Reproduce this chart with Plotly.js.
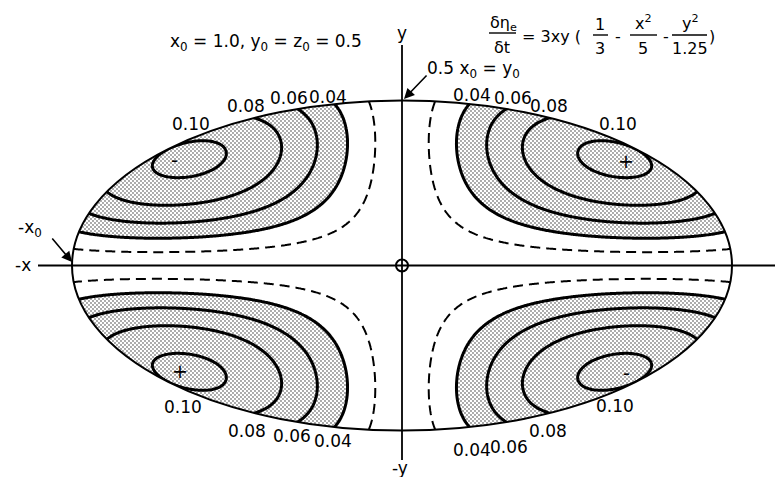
<!DOCTYPE html>
<html>
<head>
<meta charset="utf-8">
<script src="https://cdn.plot.ly/plotly-3.0.1.min.js"></script>
<style>
  html, body { margin: 0; padding: 0; background: #fff; }
  #plot { width: 778px; height: 477px; }
</style>
</head>
<body>
<div id="plot"></div>
<script>
// Semi-axes of the ellipsoid section: x0 = 1.0, y0 = 0.5
const semiAxes = [1.0, 0.5];
// d(eta_e)/dt = 3xy (1/3 - x^2/5 - y^2/1.25)
const leadCoeff = 3;
const termDenoms = [3, 5, 1.25];
// Contour levels of |d(eta_e)/dt|
const solidLevels = [0.04, 0.06, 0.08, 0.10];
const dashedLevels = [0.02];
// Sign of the rate in each quadrant: upper-left, upper-right, lower-left, lower-right
const quadrantSigns = ['-', '+', '+', '-'];

function rate(x, y) {
  return leadCoeff * x * y * (1 / termDenoms[0] - x * x / termDenoms[1] - y * y / termDenoms[2]);
}

// Sample the field over the bounding box of the ellipse
const NX = 401, NY = 201;
const gx = [], gy = [], gz = [];
for (let i = 0; i < NX; i++) gx.push(-semiAxes[0] + 2 * semiAxes[0] * i / (NX - 1));
for (let j = 0; j < NY; j++) gy.push(-semiAxes[1] + 2 * semiAxes[1] * j / (NY - 1));
for (let j = 0; j < NY; j++) {
  const row = [];
  for (let i = 0; i < NX; i++) row.push(Math.abs(rate(gx[i], gy[j])));
  gz.push(row);
}

// Page geometry: 330 px per unit, origin at (402, 265.5)
const S = 330, CX = 402, CY = 265.5, W = 778, H = 477;
const ux = p => (p - CX) / S;
const uy = p => (CY - p) / S;
const xRange = [ux(0), ux(W)];
const yRange = [uy(H), uy(0)];

const FONT = 'DejaVu Sans';
const step = solidLevels[1] - solidLevels[0];
const SHADE = 'rgb(190,190,190)';

const traces = [
  { // shaded bands (|rate| >= 0.04) with solid contour lines
    type: 'contour', x: gx, y: gy, z: gz,
    autocontour: false, showscale: false, hoverinfo: 'skip',
    zauto: false, zmin: solidLevels[0] - step / 2, zmax: solidLevels[solidLevels.length - 1] + step / 2,
    colorscale: [[0, '#ffffff'], [0.12, '#ffffff'], [0.12, SHADE], [1, SHADE]],
    contours: { coloring: 'fill', start: solidLevels[0], end: solidLevels[solidLevels.length - 1], size: step },
    line: { color: '#000', width: 3 }
  },
  { // dashed contour
    type: 'contour', x: gx, y: gy, z: gz,
    autocontour: false, showscale: false, hoverinfo: 'skip',
    contours: { coloring: 'none', start: dashedLevels[0], end: dashedLevels[0] + step / 2, size: step },
    line: { color: '#000', width: 2, dash: '10px,6px' }
  }
];

// White mask outside the ellipse (even-odd: rectangle minus ellipse)
let mask = `M ${xRange[0] - 0.1} ${yRange[0] - 0.1} L ${xRange[1] + 0.1} ${yRange[0] - 0.1} L ${xRange[1] + 0.1} ${yRange[1] + 0.1} L ${xRange[0] - 0.1} ${yRange[1] + 0.1} Z`;
for (let k = 0; k <= 360; k++) {
  const t = 2 * Math.PI * k / 360;
  mask += (k === 0 ? ' M ' : ' L ') + (semiAxes[0] * Math.cos(t)).toFixed(5) + ' ' + (semiAxes[1] * Math.sin(t)).toFixed(5);
}
mask += ' Z';

const black = { color: '#000', width: 1.8 };
const shapes = [
  { type: 'path', path: mask, fillrule: 'evenodd', fillcolor: '#fff', line: { width: 0 }, layer: 'above' },
  { type: 'circle', x0: -semiAxes[0], x1: semiAxes[0], y0: -semiAxes[1], y1: semiAxes[1], line: { color: '#000', width: 2 }, layer: 'above' },
  { type: 'line', x0: ux(38), x1: ux(775), y0: 0, y1: 0, line: black, layer: 'above' },
  { type: 'line', x0: 0, x1: 0, y0: uy(45), y1: uy(460), line: black, layer: 'above' },
  { type: 'circle', x0: -6 / S, x1: 6 / S, y0: -6 / S, y1: 6 / S, line: { color: '#000', width: 2 }, layer: 'above' }
];
// fraction bars of the rate equation
[[489, 516, 33], [593, 608, 35], [630, 657, 35], [672, 707, 35]].forEach(b => {
  shapes.push({ type: 'line', x0: ux(b[0]), x1: ux(b[1]), y0: uy(b[2]), y1: uy(b[2]), line: { color: '#000', width: 1.4 }, layer: 'above' });
});

const annotations = [];
function label(text, px, py, size) {
  annotations.push({ text, x: ux(px), y: uy(py), xref: 'x', yref: 'y', showarrow: false,
    xanchor: 'center', yanchor: 'middle', font: { family: FONT, size: size || 17, color: '#000' } });
}
function arrow(tx, ty, hx, hy) {
  annotations.push({ text: '', x: ux(hx), y: uy(hy), ax: ux(tx), ay: uy(ty), xref: 'x', yref: 'y',
    axref: 'x', ayref: 'y', showarrow: true, arrowhead: 2, arrowsize: 1.3, arrowwidth: 1.6, arrowcolor: '#000', standoff: 0 });
}

// level labels along the rim, ordered 0.10 ... 0.04 or 0.04 ... 0.10
const lv = solidLevels.map(v => v.toFixed(2));
const rimUL = [[191, 124], [246, 106], [289, 98], [328, 97]];
const rimUR = [[618, 124], [549, 106], [513, 98], [472, 95]];
const rimLL = [[183, 407], [247, 431], [292, 436], [333, 441]];
const rimLR = [[615, 406], [548, 431], [509, 447], [472, 450]];
[rimUL, rimUR, rimLL, rimLR].forEach(rim => {
  rim.forEach((p, k) => label(lv[lv.length - 1 - k], p[0], p[1]));
});

// quadrant signs
[[174, 160], [626, 161], [180, 371], [626, 373]].forEach((p, k) => label(quadrantSigns[k], p[0], p[1], 19));

// axis names and notes
label('-x', 23, 265);
label('y', 402, 33);
label('-y', 400, 468);
label('-x<sub>0</sub>', 30, 228);
label('0.5 x<sub>0</sub> = y<sub>0</sub>', 473, 69);
label(`x<sub>0</sub> = ${semiAxes[0].toFixed(1)}, y<sub>0</sub> = z<sub>0</sub> = ${semiAxes[1]}`, 266, 42);
arrow(428, 74, 404, 99);
arrow(51, 237, 72, 262);

// rate equation
label('δη<sub>e</sub>', 503, 23, 16);
label('δt', 502, 47, 16);
label(`= ${leadCoeff}xy (`, 551, 36, 16);
label('1', 600, 24, 16);
label(String(termDenoms[0]), 600, 48, 16);
label('-', 618, 36, 16);
label('x<sup>2</sup>', 643, 22, 16);
label(String(termDenoms[1]), 643, 48, 16);
label('-', 666, 36, 16);
label('y<sup>2</sup>', 690, 22, 16);
label(String(termDenoms[2]), 690, 48, 16);
label(')', 712, 36, 16);

const hidden = { showgrid: false, zeroline: false, showline: false, showticklabels: false, ticks: '', fixedrange: true };
const layout = {
  width: W, height: H,
  margin: { l: 0, r: 0, t: 0, b: 0 },
  paper_bgcolor: '#fff', plot_bgcolor: '#fff',
  xaxis: Object.assign({}, hidden, { range: xRange }),
  yaxis: Object.assign({}, hidden, { range: yRange }),
  shapes, annotations, showlegend: false
};

Plotly.newPlot('plot', traces, layout, { staticPlot: true, displayModeBar: false }).then(gd => {
  // stippled texture for the shaded bands
  const ns = 'http://www.w3.org/2000/svg';
  const svg = gd.querySelector('svg.main-svg');
  let defs = svg.querySelector('defs');
  if (!defs) { defs = document.createElementNS(ns, 'defs'); svg.insertBefore(defs, svg.firstChild); }
  const pat = document.createElementNS(ns, 'pattern');
  pat.setAttribute('id', 'stipple');
  pat.setAttribute('patternUnits', 'userSpaceOnUse');
  pat.setAttribute('width', '4');
  pat.setAttribute('height', '4');
  const bg = document.createElementNS(ns, 'rect');
  bg.setAttribute('width', '4'); bg.setAttribute('height', '4'); bg.setAttribute('fill', '#fff');
  pat.appendChild(bg);
  [[1, 1], [3, 3]].forEach(c => {
    const d = document.createElementNS(ns, 'circle');
    d.setAttribute('cx', c[0]); d.setAttribute('cy', c[1]); d.setAttribute('r', '0.78'); d.setAttribute('fill', '#333');
    pat.appendChild(d);
  });
  defs.appendChild(pat);
  gd.querySelectorAll('.contourfill path').forEach(p => {
    const f = (p.style.fill || '').replace(/\s/g, '');
    if (f && f !== 'rgb(255,255,255)' && f !== '#ffffff' && f !== 'none') p.style.fill = 'url(#stipple)';
  });
});
</script>
</body>
</html>
